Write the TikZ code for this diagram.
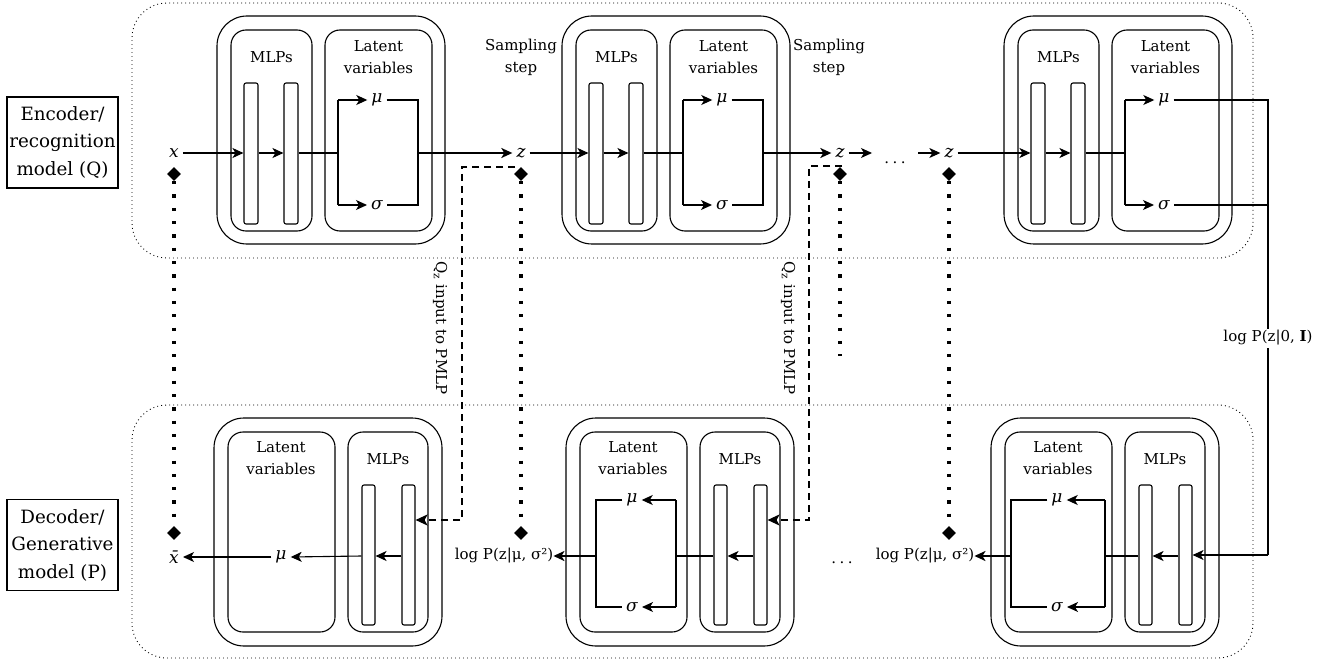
\documentclass[tikz,border=0pt]{standalone}
\usepackage{fontspec}
\setmainfont{DejaVu Serif}
\usetikzlibrary{arrows.meta,shapes.geometric,calc}
\tikzset{
 every node/.style={font=\rmfamily\fontsize{15}{22}\selectfont},
 outerbox/.style={draw, line width=1.1pt, rounded corners=30pt, minimum width=228pt, minimum height=228pt, inner sep=0pt},
 innerbox/.style={draw, line width=1.1pt, rounded corners=15pt, inner sep=0pt},
 bar/.style={draw, line width=1.1pt, rounded corners=2pt, minimum width=14pt, minimum height=141pt, inner sep=0pt},
 ln/.style={line width=1.1pt},
 arr/.style={line width=1.1pt, -{Stealth[length=11pt,width=10pt,inset=3pt]}},
 tharr/.style={line width=2.3pt, -{Stealth[length=11pt,width=10pt,inset=3pt]}},
 dsh/.style={line width=2.2pt, dash pattern=on 7pt off 5pt, -{Stealth[length=12pt,width=11pt,inset=3pt]}},
 dots/.style={line width=3.2pt, dash pattern=on 3.2pt off 10.1pt},
 region/.style={draw, line width=0.9pt, dash pattern=on 0.9pt off 3.1pt, rounded corners=35pt, inner sep=0pt},
 dia/.style={diamond, fill=black, minimum size=14pt, inner sep=0pt},
 var/.style={inner sep=4pt, font=\rmfamily\fontsize{17}{22}\selectfont\itshape},
 side/.style={draw, line width=1.1pt, inner sep=0pt, align=center, font=\rmfamily\fontsize{18.3}{27.5}\selectfont, minimum width=111pt, minimum height=91pt},
 lbl/.style={align=center, inner sep=0pt},
}
\newcommand{\encblock}[2]{%
 \node[outerbox] (#1o) at ({#2+114},130) {};
 \node[innerbox, minimum width=81pt, minimum height=201pt] (#1m) at ({#2+54.5},130.5) {};
 \node[innerbox, minimum width=107pt, minimum height=201pt] (#1l) at ({#2+161.5},130.5) {};
 \node[bar] (#1b1) at ({#2+34},153.5) {};
 \node[bar] (#1b2) at ({#2+74},153.5) {};
 \node[lbl] (#1mt) at ({#2+54.5},57) {MLPs};
 \node[lbl] (#1lt) at ({#2+161.5},57) {Latent\\variables};
 \node[var] (#1mu) at ({#2+160},100) {μ};
 \node[var] (#1sig) at ({#2+160},205) {σ};
 \coordinate (#1bl) at ({#2+121},153);
 \coordinate (#1blt) at ({#2+121},100);
 \coordinate (#1blb) at ({#2+121},205);
 \draw[arr] (#1b1.east |- #1bl) -- (#1b2.west |- #1bl);
 \draw[ln] (#1b2.east |- #1bl) -- (#1bl);
 \draw[ln] (#1blt) -- (#1blb);
 \draw[arr] (#1blt) -- (#1mu.west);
 \draw[arr] (#1blb) -- (#1sig.west);
}
\newcommand{\decblock}[2]{%
 \node[outerbox] (#1o) at ({#2+114},532) {};
 \node[innerbox, minimum width=107pt, minimum height=200pt] (#1l) at ({#2+67.5},532) {};
 \node[innerbox, minimum width=80pt, minimum height=200pt] (#1m) at ({#2+174},532) {};
 \node[bar, minimum width=13pt, minimum height=140pt] (#1b1) at ({#2+154.5},555) {};
 \node[bar, minimum width=13pt, minimum height=140pt] (#1b2) at ({#2+194.5},555) {};
 \node[lbl] (#1lt) at ({#2+67},458) {Latent\\variables};
 \node[lbl] (#1mt) at ({#2+174},459) {MLPs};
 \coordinate (#1mid) at ({#2+174},556);
 \draw[arr] (#1b2.west |- #1mid) -- (#1b1.east |- #1mid);
}
\begin{document}
\begin{tikzpicture}[x=1pt,y=-1pt]
\useasboundingbox (0,0) rectangle (1329,660);
% regions
\node[region, minimum width=1121pt, minimum height=255pt] (encreg) at (692.5,130.5) {};
\node[region, minimum width=1121pt, minimum height=253pt] (decreg) at (692.5,531.5) {};
% side labels
\node[side] (enc) at (62.5,142.5) {Encoder/\\recognition\\model (Q)};
\node[side] (dec) at (62.5,545) {Decoder/\\Generative\\model (P)};
% encoder blocks
\encblock{e1}{217}
\encblock{e2}{562}
\encblock{e3}{1004}
% right brackets of encoder blocks 1,2
\coordinate (e1br) at (418,153); \coordinate (e1brb) at (418,205);
\draw[ln] (e1mu.east) -| (e1brb) -- (e1sig.east);
\coordinate (e2br) at (763,153); \coordinate (e2brb) at (763,205);
\draw[ln] (e2mu.east) -| (e2brb) -- (e2sig.east);
% encoder chain
\node[var] (xin) at (174,153) {x};
\node[var] (z1) at (521,153) {z};
\node[var] (z2) at (840,153) {z};
\node[var] (z3) at (949,153) {z};
\node[lbl] (ss1) at (521,57) {Sampling\\step};
\node[lbl] (ss2) at (829,57) {Sampling\\step};
\draw[arr] (xin.east) -- (e1b1.west |- e1bl);
\draw[tharr] (e1br) -- (z1.west);
\draw[arr] (z1.east) -- (e2b1.west |- e2bl);
\draw[tharr] (e2br) -- (z2.west);
\coordinate (zc1) at (872,153);
\draw[arr] (z2.east) -- (zc1);
\node[lbl] (dt1) at (895,163) {.\kern3.5pt.\kern3.5pt.};
\coordinate (zc2) at (918,153);
\draw[arr] (zc2) -- (z3.west);
\draw[arr] (z3.east) -- (e3b1.west |- e3bl);
% diamonds and dotted links
\node[dia] (dx1) at (174,174) {};
\node[dia] (dx2) at (174,533) {};
\node[dia] (dz1) at (521,174) {};
\node[dia] (dz1b) at (521,533) {};
\node[dia] (dz2) at (840,174) {};
\node[dia] (dz3) at (949,174) {};
\node[dia] (dz3b) at (949,533) {};
\draw[dots] (dx1.south) -- (dx2.north);
\draw[dots] (dz1.south) -- (dz1b.north);
\draw[dots] (dz3.south) -- (dz3b.north);
\coordinate (dz2e) at (840,356);
\draw[dots] (dz2.south) -- (dz2e);
% decoder blocks
\decblock{d1}{214}
\decblock{d2}{566}
\decblock{d3}{991}
% decoder block 1
\node[var] (d1mu) at (281,557) {μ};
\node[var] (xbar) at (174,557) {\=x};
\draw[arr] (d1b1.west |- d1mid) -- (d1mu.east);
\draw[arr] (d1mu.west) -- (xbar.east);
% decoder block 2
\node[var] (d2mu) at (632,500) {μ};
\node[var] (d2sig) at (632,607) {σ};
\coordinate (d2br) at (676,556); \coordinate (d2brt) at (676,500); \coordinate (d2brb) at (676,607);
\coordinate (d2bl) at (596,556); \coordinate (d2blb) at (596,607);
\draw[ln] (d2b1.west |- d2mid) -- (d2br);
\draw[ln] (d2brt) -- (d2brb);
\draw[arr] (d2brt) -- (d2mu.east);
\draw[arr] (d2brb) -- (d2sig.east);
\draw[ln] (d2mu.west) -| (d2blb) -- (d2sig.west);
\node[lbl] (lp1) at (504,556) {log P(z|μ, σ²)};
\draw[tharr] (d2bl) -- (lp1.east);
% decoder block 3
\node[var] (d3mu) at (1057,500) {μ};
\node[var] (d3sig) at (1057,607) {σ};
\coordinate (d3br) at (1105,556); \coordinate (d3brt) at (1105,500); \coordinate (d3brb) at (1105,607);
\coordinate (d3bl) at (1011,556); \coordinate (d3blb) at (1011,607);
\draw[line width=2.3pt] (d3b1.west |- d3mid) -- (d3br);
\draw[ln] (d3brt) -- (d3brb);
\draw[arr] (d3brt) -- (d3mu.east);
\draw[arr] (d3brb) -- (d3sig.east);
\draw[ln] (d3mu.west) -| (d3blb) -- (d3sig.west);
\node[lbl] (lp2) at (925,556) {log P(z|μ, σ²)};
\draw[tharr] (d3bl) -- (lp2.east);
\node[lbl] (dt2) at (842,563) {.\kern3.5pt.\kern3.5pt.};
% encoder 3 to decoder 3
\coordinate (r1) at (1268,555);
\draw[ln] (e3mu.east) -| (r1);
\draw[ln] (e3sig.east) -- (e3sig.east -| r1);
\draw[arr] (r1) -- (d3b2.east |- r1);
\node[lbl, fill=white, inner sep=2pt] (lpi) at (1268,338) {log P(z|0, \textbf{I})};
% dashed Qz links
\coordinate (z1t) at (515,167); \coordinate (q1) at (462,520);
\draw[dsh] (z1t) -| (q1) -- (d1b2.east |- q1);
\coordinate (z2t) at (842,166); \coordinate (q2) at (809,520);
\draw[dsh] (z2t) -| (q2) -- (d2b2.east |- q2);
\node[lbl, rotate=-90] (qz1) at (440,328) {Q\textsubscript{z} input to PMLP};
\node[lbl, rotate=-90] (qz2) at (788,328) {Q\textsubscript{z} input to PMLP};
\end{tikzpicture}
\end{document}
